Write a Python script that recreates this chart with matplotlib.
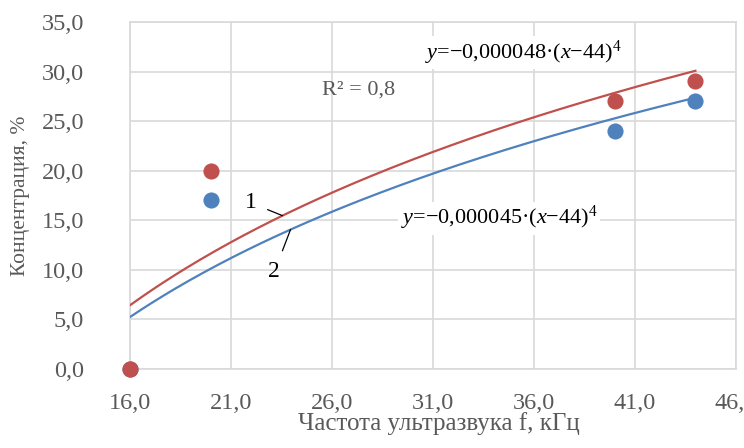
import numpy as np
import matplotlib
matplotlib.use("Agg")
import matplotlib.pyplot as plt

plt.rcParams["font.family"] = ["Liberation Serif", "DejaVu Serif"]
plt.rcParams["mathtext.fontset"] = "custom"
plt.rcParams["mathtext.rm"] = "Liberation Serif"
plt.rcParams["mathtext.it"] = "Liberation Serif:italic"

# Measured concentration vs. ultrasound frequency
freq = [16.0, 20.0, 40.0, 44.0]
conc_1 = [0.0, 20.0, 27.0, 29.0]   # series 1 (red)
conc_2 = [0.0, 17.0, 24.0, 27.0]   # series 2 (blue)

x_ticks = [16.0, 21.0, 26.0, 31.0, 36.0, 41.0, 46.0]
y_ticks = [0.0, 5.0, 10.0, 15.0, 20.0, 25.0, 30.0, 35.0]

eq_1 = r"$y$=−0,000048·($x$−44)$^4$"
eq_2 = r"$y$=−0,000045·($x$−44)$^4$"
r2_text = "R² = 0,8"

RED = "#C0504D"
BLUE = "#4F81BD"
GRID = "#D9D9D9"
TXT = "#595959"

fig = plt.figure(figsize=(7.44, 4.48), dpi=100)
ax = fig.add_axes([0.1747, 0.1763, 0.8143, 0.7747])

ax.set_xlim(16, 46)
ax.set_ylim(0, 35)
ax.set_xticks(x_ticks)
ax.set_yticks(y_ticks)
fmt = lambda v: f"{v:.1f}".replace(".", ",")
ax.set_xticklabels([fmt(v) for v in x_ticks])
ax.set_yticklabels([fmt(v) for v in y_ticks])
ax.tick_params(length=0, labelsize=17.5, labelcolor=TXT)
ax.tick_params(axis="x", pad=17)
ax.tick_params(axis="y", pad=33)
ax.grid(True, color=GRID, linewidth=1.2)
ax.set_axisbelow(True)
for s in ax.spines.values():
    s.set_color(GRID)
    s.set_linewidth(1.2)

# Logarithmic trend lines fitted to each series
xs = np.linspace(min(freq), max(freq), 200)
fits = {}
for y, c in ((conc_1, RED), (conc_2, BLUE)):
    a, b = np.polyfit(np.log(freq), y, 1)
    fits[c] = (a, b)
    ax.plot(xs, a * np.log(xs) + b, color=c, linewidth=1.6, zorder=3)

ax.scatter(freq, conc_2, s=135, color=BLUE, zorder=4, clip_on=False, linewidths=0)
ax.scatter(freq, conc_1, s=135, color=RED, zorder=5, clip_on=False, linewidths=0)

# Curve labels with leader lines
def curve_y(c, x):
    a, b = fits[c]
    return a * np.log(x) + b

x1 = 23.55
ax.annotate("1", xy=(x1, curve_y(RED, x1)), xytext=(22.0, 16.75),
            fontsize=17, ha="center", va="center", color="black",
            arrowprops=dict(arrowstyle="-", color="black", lw=0.9,
                            shrinkA=6, shrinkB=0), zorder=6)
x2 = 23.95
ax.annotate("2", xy=(x2, curve_y(BLUE, x2)), xytext=(23.15, 9.8),
            fontsize=17, ha="center", va="center", color="black",
            arrowprops=dict(arrowstyle="-", color="black", lw=0.9,
                            shrinkA=6, shrinkB=0), zorder=6)

ax.text(25.5, 28.1, r2_text, fontsize=16, color=TXT, ha="left", va="center")
ax.text(30.6, 31.9, eq_1, fontsize=16, color="black", ha="left", va="center",
        bbox=dict(facecolor="white", edgecolor="none", pad=2), zorder=2)
ax.text(29.4, 15.2, eq_2, fontsize=16, color="black", ha="left", va="center",
        bbox=dict(facecolor="white", edgecolor="none", pad=2), zorder=2)

ax.set_xlabel("Частота ультразвука f, кГц", fontsize=18, color=TXT)
ax.set_ylabel("Концентрация, %", fontsize=15.5, color=TXT)
ax.xaxis.set_label_coords(0.51, -0.125)
ax.yaxis.set_label_coords(-0.165, 0.5)

fig.savefig("out.png", dpi=100)
